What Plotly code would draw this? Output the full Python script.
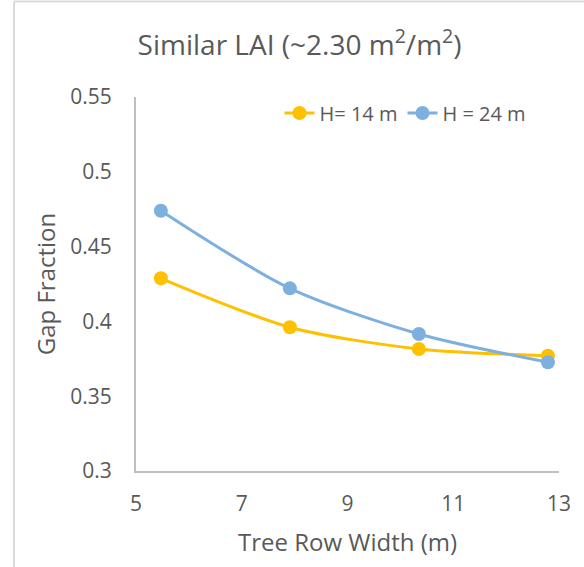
import plotly.graph_objects as go

row_width = [5.47, 7.91, 10.35, 12.79]
gap_h14 = [0.4288, 0.3961, 0.3816, 0.3771]
gap_h24 = [0.4740, 0.4221, 0.3916, 0.3727]
series_names = ["H= 14 m", "H = 24 m"]
x_ticks = [5, 7, 9, 11, 13]
y_ticks = [0.3, 0.35, 0.4, 0.45, 0.5, 0.55]
y_tick_text = ["0.3", "0.35", "0.4", "0.45", "0.5", "0.55"]

FONT = "Open Sans, sans-serif"
GRAY = "#595959"

fig = go.Figure()
fig.add_trace(go.Scatter(
    x=row_width, y=gap_h14, name=series_names[0], mode="lines+markers",
    line=dict(color="#FFC000", width=3, shape="spline", smoothing=0.8),
    marker=dict(color="#FFC000", size=14),
))
fig.add_trace(go.Scatter(
    x=row_width, y=gap_h24, name=series_names[1], mode="lines+markers",
    line=dict(color="#7EB0DF", width=3, shape="spline", smoothing=0.8),
    marker=dict(color="#7EB0DF", size=14),
))

L, R, T, B = 136, 25, 97, 96
W, H = 584, 567
pw = W - L - R
ph = H - T - B

def px_to_paper_x(px):
    return (px - L) / pw

def px_to_paper_y(py):
    return (H - B - py) / ph

fig.update_layout(
    width=W, height=H,
    margin=dict(l=L, r=R, t=T, b=B),
    paper_bgcolor="white", plot_bgcolor="white",
    font=dict(family=FONT, color=GRAY, size=21),
    title=dict(text="Similar LAI (~2.30 m<sup>2</sup>/m<sup>2</sup>)",
               x=0.513, xanchor="center", y=0.92, yanchor="middle",
               font=dict(size=28, color=GRAY, family=FONT)),
    showlegend=True,
    legend=dict(orientation="h", x=0.935, xanchor="right",
                y=px_to_paper_y(113), yanchor="middle",
                font=dict(size=20, color=GRAY), bgcolor="rgba(0,0,0,0)",
                tracegroupgap=0),
    xaxis=dict(range=[5, 13], tickvals=x_ticks, showgrid=False, zeroline=False,
               showline=True, linecolor="#BFBFBF", linewidth=2, ticks="",
               ticklabelstandoff=13, tickfont=dict(size=21, color=GRAY),
               title=dict(text="Tree Row Width (m)", font=dict(size=24, color=GRAY), standoff=18)),
    yaxis=dict(range=[0.3, 0.55], tickvals=y_ticks, ticktext=y_tick_text, showgrid=False,
               zeroline=False, showline=True, linecolor="#BFBFBF", linewidth=2, ticks="",
               ticklabelstandoff=18, tickfont=dict(size=21, color=GRAY),
               title=dict(text="Gap Fraction", font=dict(size=24, color=GRAY), standoff=8)),
    shapes=[
        dict(type="line", xref="paper", yref="paper",
             x0=px_to_paper_x(14), x1=px_to_paper_x(14),
             y0=px_to_paper_y(1.5), y1=px_to_paper_y(567),
             line=dict(color="#D9D9D9", width=2)),
        dict(type="line", xref="paper", yref="paper",
             x0=px_to_paper_x(14), x1=px_to_paper_x(584),
             y0=px_to_paper_y(1.5), y1=px_to_paper_y(1.5),
             line=dict(color="#D9D9D9", width=2)),
    ],
)

fig.write_html("out.html")
